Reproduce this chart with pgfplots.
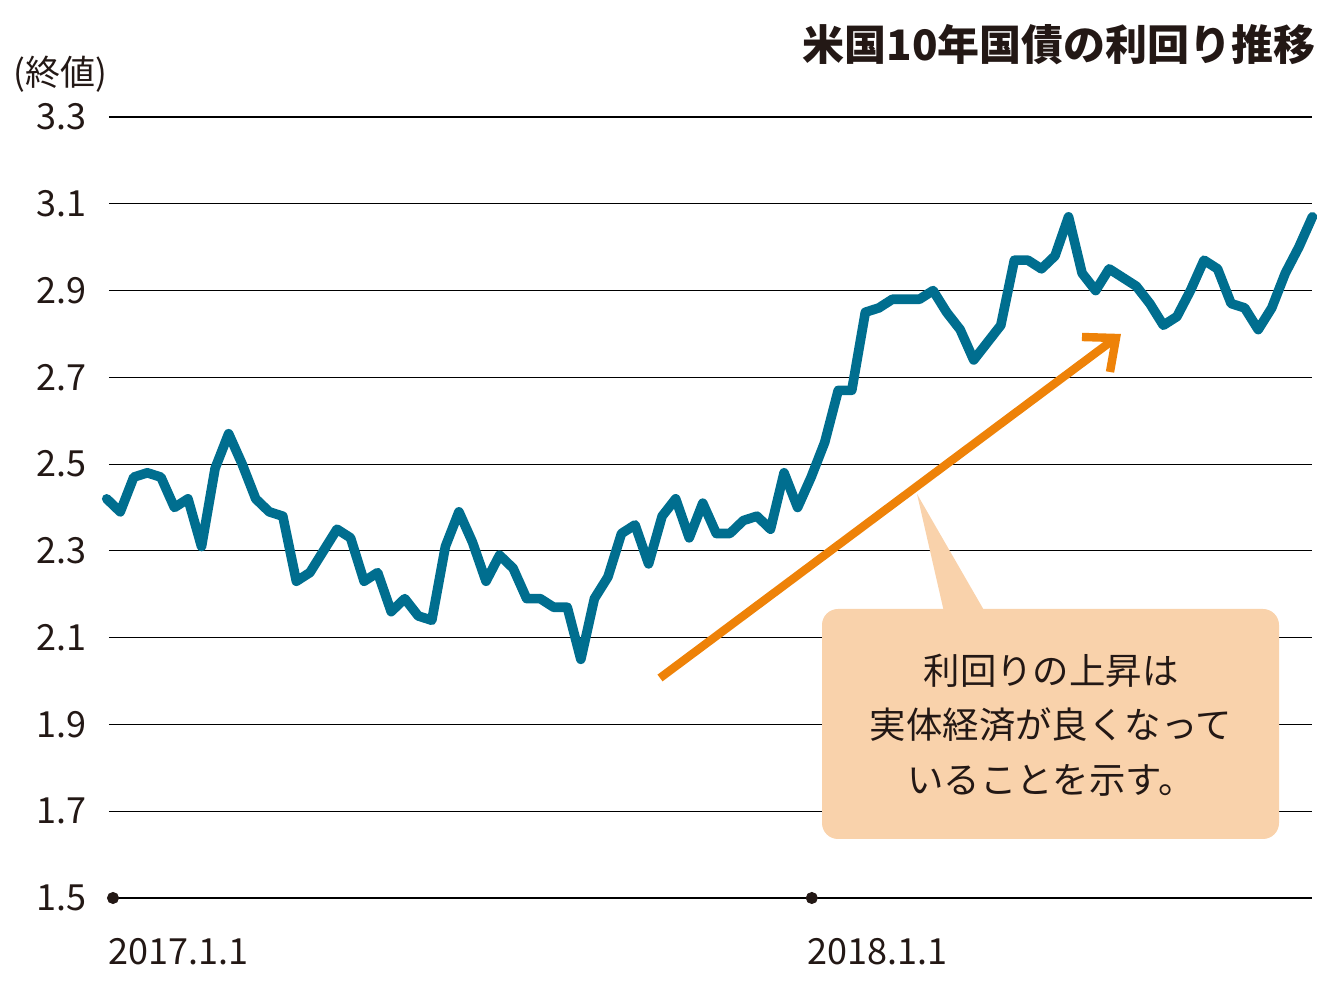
\documentclass[border=0pt]{standalone}
\usepackage{fontspec}
\setmainfont{Noto Sans CJK JP}
\usepackage{pgfplots}
\pgfplotsset{compat=1.18}
\usetikzlibrary{arrows.meta}
\definecolor{lineblue}{HTML}{006E8F}
\definecolor{arroworange}{HTML}{EE8208}
\definecolor{peach}{HTML}{F9D2AB}
\definecolor{txt}{HTML}{231815}
\begin{document}
\begin{tikzpicture}
\begin{axis}[
  at={(0,0)}, anchor=south west,
  scale only axis,
  width=601.35pt, height=390.5pt,
  xmin=0.17, xmax=88.95,
  ymin=1.5, ymax=3.3,
  clip=false,
  axis line style={draw=none},
  major tick length=0pt,
  ytick={1.5,1.7,1.9,2.1,2.3,2.5,2.7,2.9,3.1,3.3},
  yticklabels={1.5,1.7,1.9,2.1,2.3,2.5,2.7,2.9,3.1,3.3},
  xtick={0.465,52.05},
  xticklabels={2017.1.1,2018.1.1},
  ymajorgrids,
  grid style={black, line width=0.6pt},
  /pgf/number format/assume math mode=true,
  yticklabel style={font=\fontsize{18}{20}\selectfont, text=txt, anchor=east, inner sep=0pt, xshift=-11pt},
  xticklabel style={font=\fontsize{18}{20}\selectfont, text=txt, anchor=north west, inner sep=0pt, xshift=-2.5pt, yshift=-20pt},
]
\addplot[lineblue, line width=4.8pt, line join=round, line cap=round] coordinates {
(0,2.42) (1,2.39) (2,2.47) (3,2.48) (4,2.47) (5,2.40) (6,2.42) (7,2.31) (8,2.49) (9,2.57)
(10,2.50) (11,2.42) (12,2.39) (13,2.38) (14,2.23) (15,2.25) (16,2.30) (17,2.35) (18,2.33) (19,2.23)
(20,2.25) (21,2.16) (22,2.19) (23,2.15) (24,2.14) (25,2.31) (26,2.39) (27,2.32) (28,2.23) (29,2.29)
(30,2.26) (31,2.19) (32,2.19) (33,2.17) (34,2.17) (35,2.05) (36,2.19) (37,2.24) (38,2.34) (39,2.36)
(40,2.27) (41,2.38) (42,2.42) (43,2.33) (44,2.41) (45,2.34) (46,2.34) (47,2.37) (48,2.38) (49,2.35)
(50,2.48) (51,2.40) (52,2.47) (53,2.55) (54,2.67) (55,2.67) (56,2.85) (57,2.86) (58,2.88) (59,2.88)
(60,2.88) (61,2.90) (62,2.85) (63,2.81) (64,2.74) (65,2.78) (66,2.82) (67,2.97) (68,2.97) (69,2.95)
(70,2.98) (71,3.07) (72,2.94) (73,2.90) (74,2.95) (75,2.93) (76,2.91) (77,2.87) (78,2.82) (79,2.84)
(80,2.90) (81,2.97) (82,2.95) (83,2.87) (84,2.86) (85,2.81) (86,2.86) (87,2.94) (88,3.00) (89,3.07)
};
\addplot[only marks, mark=*, mark size=2.8pt, txt] coordinates {(0.465,1.5) (52.05,1.5)};
\end{axis}
\begin{scope}[x=0.5pt, y=-0.5pt, shift={(-109,-898)}]
  \path (0,0) rectangle (1340,990);
  % title
  \node[anchor=east, inner sep=0pt, text=txt, font=\fontsize{21}{23}\selectfont\bfseries] at (1316,45) {米国10年国債の利回り推移};
  \node[anchor=west, inner sep=0pt, text=txt, font=\fontsize{17.5}{20}\selectfont] at (13,74) {(終値)};
  % callout
  \fill[peach] (917,494) -- (985,612) -- (944,612) -- cycle;
  \fill[peach, rounded corners=8pt] (822,609) rectangle (1279,839);
  \node[align=center, inner sep=0pt, text=txt, font=\fontsize{18.2}{27.3}\selectfont] at (1051,725) {利回りの上昇は\\実体経済が良くなって\\いることを示す。};
  % arrow
  \draw[arroworange, line width=4.2pt] (660,678) -- (1113,340);
  \draw[arroworange, line width=4.2pt, line join=miter, miter limit=10] (1082,337) -- (1116,338) -- (1110,372);
\end{scope}
\end{tikzpicture}
\end{document}
